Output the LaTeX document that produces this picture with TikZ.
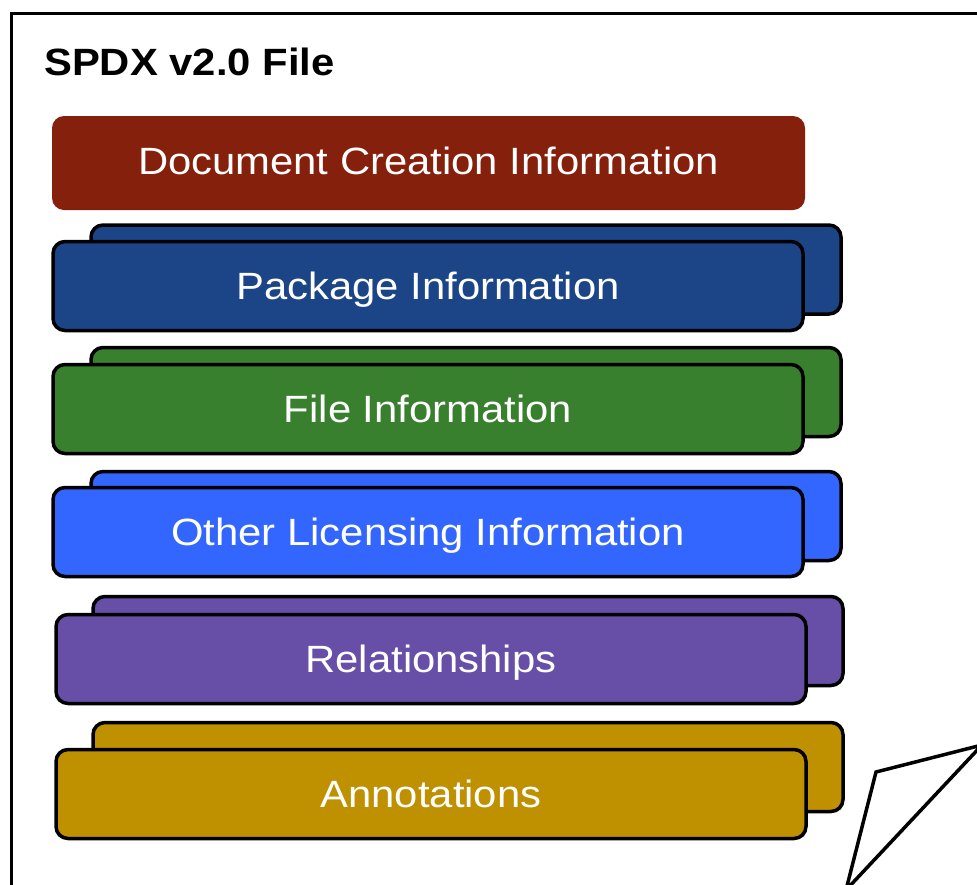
\documentclass[tikz,border=0pt]{standalone}
\usepackage{graphicx}
\usepackage{fontspec}
\setmainfont{Liberation Sans}
\newcommand{\widetxt}[1]{\scalebox{1.1}[1]{#1}}
\begin{document}
\begin{tikzpicture}[x=1pt,y=-1pt,
  card/.style={draw=black, line width=3.5pt, rounded corners=12pt, minimum width=750pt, minimum height=89pt, inner sep=0pt, text=white, text height=27.2pt, text depth=0pt, font=\fontsize{38}{46}\selectfont},
  backcard/.style={card},
  frameline/.style={line width=3pt, line join=miter}]
\definecolor{cred}{HTML}{85200C}
\definecolor{cdblue}{HTML}{1C4587}
\definecolor{cgreen}{HTML}{38802E}
\definecolor{cblue}{HTML}{3366FF}
\definecolor{cpurple}{HTML}{674EA7}
\definecolor{cgold}{HTML}{BF9000}
\useasboundingbox (0,0) rectangle (977,884);
% outer file frame
\draw[frameline] (11.5,900) -- (11.5,13.5) -- (1000,13.5);
% folded corner
\draw[frameline, line width=3.5pt, fill=white] (982,745) -- (876,772) -- (846,890) -- cycle;
% title
\node[anchor=base west, inner sep=0pt, font=\fontsize{38}{46}\selectfont\bfseries] (title) at (44,75.5) {\widetxt{SPDX v2.0 File}};
% document creation
\node[fill=cred, rounded corners=12pt, minimum width=753pt, minimum height=94pt, inner sep=0pt, text=white, text height=27.2pt, text depth=4pt, font=\fontsize{38}{46}\selectfont] (doc) at (428.5,163) {\widetxt{Document Creation Information}};
% package
\node[backcard, fill=cdblue] (pkgb) at (466,269.5) {};
\node[card, fill=cdblue] (pkg) at (428,286) {\widetxt{Package Information}};
% file
\node[backcard, fill=cgreen] (fileb) at (466,392) {};
\node[card, fill=cgreen] (file) at (428,409) {\widetxt{File Information}};
% other licensing
\node[backcard, fill=cblue] (olb) at (466,516) {};
\node[card, fill=cblue] (ol) at (428,532) {\widetxt{Other Licensing Information}};
% relationships
\node[backcard, fill=cpurple] (relb) at (468,641) {};
\node[card, fill=cpurple] (rel) at (431,659) {\widetxt{Relationships}};
% annotations
\node[backcard, fill=cgold] (annb) at (468,767) {};
\node[card, fill=cgold] (ann) at (431,794) {\widetxt{Annotations}};
\end{tikzpicture}
\end{document}
